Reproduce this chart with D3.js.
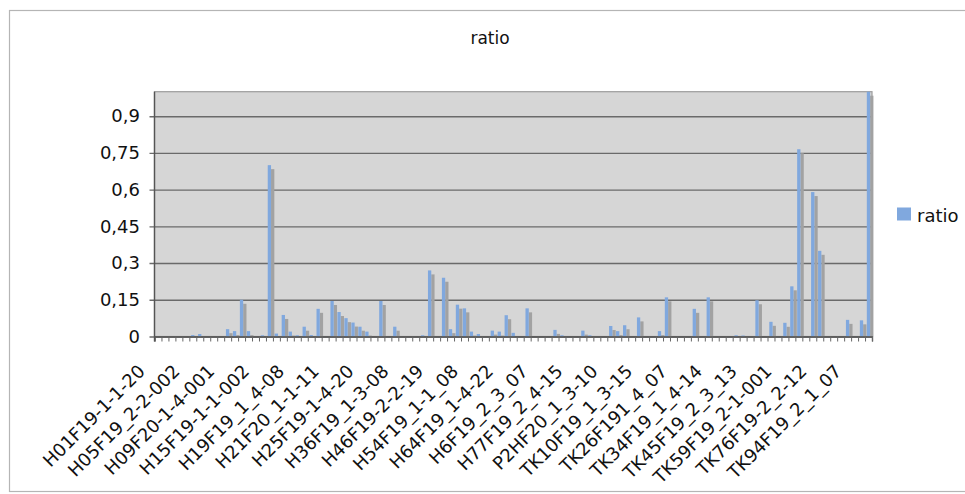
<!DOCTYPE html>
<html><head><meta charset="utf-8">
<script src="https://cdn.jsdelivr.net/npm/d3@7"></script>
<style>
body{margin:0;background:#fff;}
svg{display:block;font-family:"DejaVu Sans",Verdana,sans-serif;}
</style></head><body>
<svg id="chart" width="965" height="494"></svg>
<script>
const chartTitle = "ratio";
const seriesName = "ratio";
const tickLabels = ["H01F19-1-1-20","H05F19_2-2-002","H09F20-1-4-001","H15F19-1-1-002","H19F19_1_4-08",
  "H21F20_1-1-11","H25F19-1-4-20","H36F19_1-3-08","H46F19-2-2-19","H54F19_1-1_08","H64F19_1-4-22",
  "H6F19_2_3_07","H77F19_2_4-15","P2HF20_1_3-10","TK10F19_1_3-15","TK26F191_4_07","TK34F19_1_4-14",
  "TK45F19_2_3_13","TK59F19_2-1-001","TK76F19-2_2-12","TK94F19_2_1_07"];
const labelEvery = 5;
const values = [
  0, 0, 0, 0, 0, 0.006, 0.01, 0, 0, 0,
  0.03, 0.022, 0.15, 0.022, 0, 0.005, 0.70, 0.012, 0.088, 0.02,
  0.005, 0.04, 0.006, 0.113, 0, 0.145, 0.1, 0.075, 0.057, 0.04,
  0.02, 0, 0.145, 0, 0.04, 0, 0, 0, 0.005, 0.27,
  0, 0.24, 0.03, 0.13, 0.115, 0.02, 0.01, 0, 0.024, 0.02,
  0.087, 0.015, 0, 0.115, 0, 0, 0, 0.027, 0.005, 0,
  0, 0.024, 0.005, 0, 0, 0.043, 0.022, 0.046, 0, 0.078,
  0, 0, 0.022, 0.16, 0, 0, 0, 0.113, 0, 0.16,
  0, 0, 0, 0.005, 0.004, 0, 0.148, 0, 0.06, 0,
  0.056, 0.205, 0.765, 0, 0.59, 0.35, 0, 0, 0, 0.068,
  0, 0.066, 1.0
];
const yTicks = [0, 0.15, 0.3, 0.45, 0.6, 0.75, 0.9];
const yMax = 1.0;

const svg = d3.select("#chart");
const P = {left: 154.5, right: 872, top: 91.7, bottom: 336.5};
const plotW = P.right - P.left;
const N = values.length;

const fmt = d3.formatLocale({decimal: ",", thousands: ".", grouping: [3], currency: ["", ""]}).format("~g");

const x = d3.scaleBand().domain(d3.range(N)).range([P.left, P.right]).paddingInner(0).paddingOuter(0);
const xLin = d3.scaleLinear().domain([0, N]).range([P.left, P.right]);
const y = d3.scaleLinear().domain([0, yMax]).range([P.bottom, P.top]);

// outer chart border
svg.append("rect").attr("x", 9.5).attr("y", 10.5).attr("width", 1000).attr("height", 481)
  .attr("fill", "#fff").attr("stroke", "#b5b5b5").attr("stroke-width", 1.2);

// title
svg.append("text").attr("x", 490).attr("y", 44).attr("text-anchor", "middle")
  .attr("font-size", 17).attr("fill", "#111").text(chartTitle);

// plot background
svg.append("rect").attr("x", P.left).attr("y", P.top).attr("width", plotW).attr("height", P.bottom - P.top)
  .attr("fill", "#d6d6d6").attr("stroke", "#9c9c9c").attr("stroke-width", 1.2);

// grid + y labels
const yAxis = svg.append("g").attr("transform", `translate(${P.left - 5},0)`)
  .call(d3.axisLeft(y).tickValues(yTicks).tickSize(-(plotW + 5)).tickPadding(9.5).tickFormat(fmt));
yAxis.select(".domain").remove();
yAxis.selectAll(".tick line").attr("stroke", "#6a6a6a").attr("stroke-width", 1.4);
yAxis.selectAll(".tick text").attr("font-size", 18).attr("fill", "#111")
  .attr("font-family", '"DejaVu Sans",Verdana,sans-serif');

// shadow bars
svg.append("g").selectAll("rect").data(values).join("rect")
  .attr("x", (d, i) => x(i) + x.bandwidth() / 2 + 1.6)
  .attr("width", 3.3)
  .attr("y", d => Math.min(y(d) + 4, P.bottom))
  .attr("height", d => Math.max(P.bottom - (y(d) + 4), 0))
  .attr("fill", "#a2a2a2");

// bars
svg.append("g").selectAll("rect").data(values).join("rect")
  .attr("x", (d, i) => x(i) + x.bandwidth() / 2 - 1.7)
  .attr("width", 3.3)
  .attr("y", d => y(d))
  .attr("height", d => P.bottom - y(d))
  .attr("fill", "#80a8de");

// x axis ticks (category boundaries)
const xTicks = svg.append("g").attr("transform", `translate(0,${P.bottom})`)
  .call(d3.axisBottom(xLin).tickValues(d3.range(N + 1)).tickSize(5).tickFormat(""));
xTicks.select(".domain").attr("stroke", "#555").attr("stroke-width", 1.4);
xTicks.selectAll(".tick line").attr("stroke", "#666");

// x labels
const xLab = svg.append("g").attr("transform", `translate(0,${P.bottom})`)
  .call(d3.axisBottom(x).tickValues(d3.range(0, N, labelEvery)).tickSize(0)
    .tickFormat(i => tickLabels[i / labelEvery] || ""));
xLab.select(".domain").remove();
xLab.selectAll(".tick text")
  .attr("x", 0).attr("y", 0).attr("dy", 0)
  .attr("text-anchor", "end")
  .attr("transform", "translate(-12,36) rotate(-45)")
  .attr("font-size", 18).attr("fill", "#111")
  .attr("font-family", '"DejaVu Sans",Verdana,sans-serif');

// y axis line
svg.append("line").attr("x1", P.left).attr("x2", P.left).attr("y1", P.top).attr("y2", P.bottom + 5)
  .attr("stroke", "#555").attr("stroke-width", 1.4);

// legend
svg.append("rect").attr("x", 897).attr("y", 207.5).attr("width", 14).attr("height", 13).attr("fill", "#80a8de");
svg.append("text").attr("x", 917).attr("y", 221.5).attr("font-size", 18).attr("fill", "#111").text(seriesName);
</script>
</body></html>
